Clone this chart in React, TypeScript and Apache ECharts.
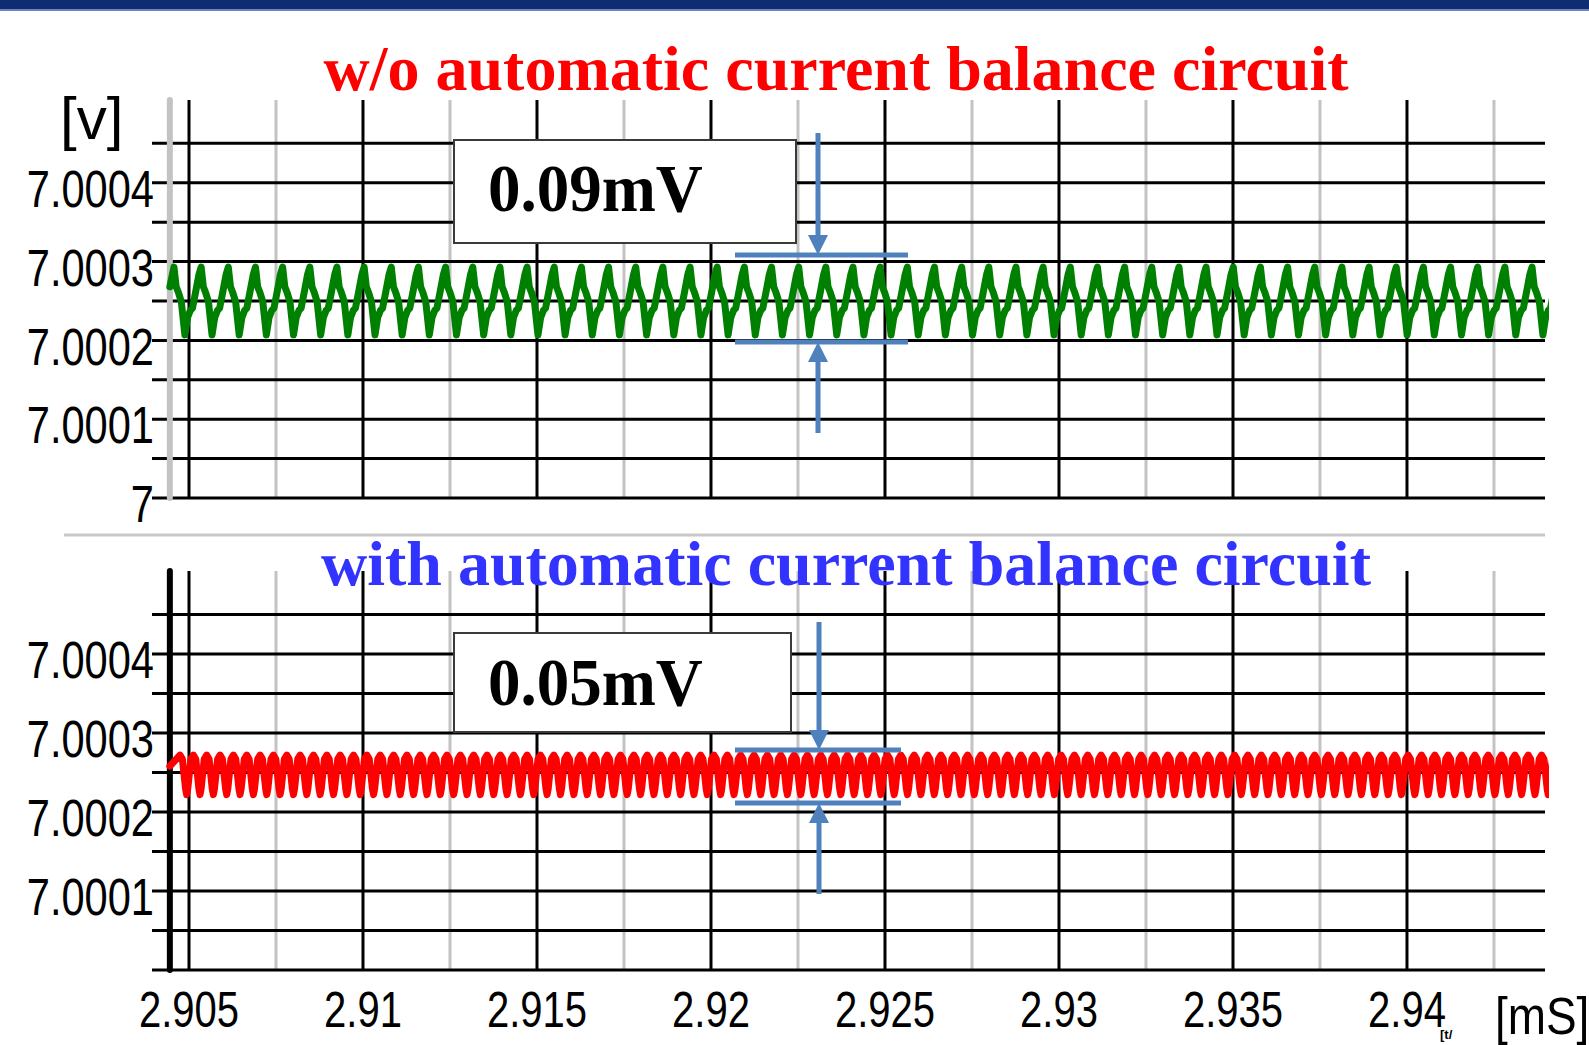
import React, { useEffect, useRef } from "react";
import * as echarts from "echarts";

// ---- axis ranges (ms / V) ----
const X_MIN = 2.903937;
const X_MAX = 2.943966;
const Y_MIN = 7;
const Y_MAX = 7.000505;
const Y_AXIS_AT = 2.90445;

// ---- tick / grid values ----
const xTickLabels = [2.905, 2.91, 2.915, 2.92, 2.925, 2.93, 2.935, 2.94];
const xMinorLines = [2.9075, 2.9125, 2.9175, 2.9225, 2.9275, 2.9325, 2.9375, 2.9425];
const yGridLines = [7, 7.00005, 7.0001, 7.00015, 7.0002, 7.00025, 7.0003, 7.00035, 7.0004, 7.00045];
const topYLabels = [7, 7.0001, 7.0002, 7.0003, 7.0004];
const bottomYLabels = [7.0001, 7.0002, 7.0003, 7.0004];

// ---- green trace (w/o balance circuit) ----
const greenStart = [2.90445, 7.000268];
const greenPeaks = [
  2.904569, 2.90535, 2.90613, 2.906911, 2.907691, 2.908472, 2.909252, 2.910033, 2.910813, 2.911594,
  2.912374, 2.913155, 2.913935, 2.914716, 2.915496, 2.916277, 2.917057, 2.917838, 2.918618, 2.919399,
  2.920179, 2.92096, 2.92174, 2.922521, 2.923301, 2.924082, 2.924862, 2.925643, 2.926423, 2.927204,
  2.927984, 2.928765, 2.929545, 2.930326, 2.931106, 2.931887, 2.932667, 2.933448, 2.934228, 2.935009,
  2.935789, 2.93657, 2.93735, 2.938131, 2.938911, 2.939692, 2.940472, 2.941253, 2.942033, 2.942814,
  2.943594,
];
const greenCyclePhase = [0, 0.08, 0.17, 0.27, 0.4, 0.5, 0.6, 0.68, 0.8, 0.92];
const greenCycleValue = [7.000293, 7.000268, 7.00026, 7.000249, 7.000207, 7.000229, 7.000238, 7.000241, 7.000262, 7.000284];

// ---- red trace (with balance circuit) ----
const redStart = [2.90445, 7.000258];
const redPeaks = [
  2.904741, 2.905125, 2.905508, 2.905892, 2.906275, 2.906659, 2.907043, 2.907426, 2.90781, 2.908193,
  2.908577, 2.908961, 2.909344, 2.909728, 2.910111, 2.910495, 2.910879, 2.911262, 2.911646, 2.912029,
  2.912413, 2.912797, 2.91318, 2.913564, 2.913947, 2.914331, 2.914715, 2.915098, 2.915482, 2.915865,
  2.916249, 2.916633, 2.917016, 2.9174, 2.917783, 2.918167, 2.918551, 2.918934, 2.919318, 2.919701,
  2.920085, 2.920469, 2.920852, 2.921236, 2.921619, 2.922003, 2.922387, 2.92277, 2.923154, 2.923537,
  2.923921, 2.924305, 2.924688, 2.925072, 2.925455, 2.925839, 2.926223, 2.926606, 2.92699, 2.927373,
  2.927757, 2.928141, 2.928524, 2.928908, 2.929291, 2.929675, 2.930059, 2.930442, 2.930826, 2.931209,
  2.931593, 2.931977, 2.93236, 2.932744, 2.933127, 2.933511, 2.933895, 2.934278, 2.934662, 2.935045,
  2.935429, 2.935813, 2.936196, 2.93658, 2.936963, 2.937347, 2.937731, 2.938114, 2.938498, 2.938881,
  2.939265, 2.939649, 2.940032, 2.940416, 2.940799, 2.941183, 2.941567, 2.94195, 2.942334, 2.942717,
  2.943101, 2.943485, 2.943868,
];
const redCyclePhase = [0, 0.18, 0.42, 0.5, 0.58, 0.82];
const redCycleValue = [7.000272, 7.000267, 7.000229, 7.000222, 7.000229, 7.000267];

// ---- texts ----
const titleTop = "w/o automatic current balance circuit";
const titleBottom = "with automatic current balance circuit";
const noteTop = "0.09mV";
const noteBottom = "0.05mV";
const yUnit = "[v]";
const xUnit = "[mS]";
const xUnitExtra = "[t/";

function buildWave(start: number[], peaks: number[], phases: number[], values: number[]) {
  const pts: number[][] = [start];
  for (let i = 0; i < peaks.length; i++) {
    const p = peaks[i];
    const next = i + 1 < peaks.length ? peaks[i + 1] : p + (p - peaks[i - 1]);
    const span = next - p;
    for (let j = 0; j < phases.length; j++) pts.push([p + phases[j] * span, values[j]]);
  }
  return pts;
}

function verticalSegments(values: number[]) {
  const d: any[] = [];
  values.forEach((v) => d.push([v, Y_MIN], [v, Y_MAX], [v, "-"]));
  return d;
}
function horizontalSegments(values: number[]) {
  const d: any[] = [];
  values.forEach((v) => d.push([X_MIN, v], [X_MAX, v], [X_MAX, "-"]));
  return d;
}

const fmt = (v: number) => String(parseFloat(Number(v).toFixed(4)));
const SANS = "'Liberation Sans', Arial, sans-serif";
const SERIF = "'Liberation Serif', 'Times New Roman', serif";
const BLUE = "#4f81bd";
const GRAY = "#c3c3c3";

function gridSeries(gi: number, axisColor: string) {
  const base = { type: "line", xAxisIndex: gi, yAxisIndex: gi, showSymbol: false, silent: true, clip: false, connectNulls: false, animation: false };
  return [
    { ...base, z: 1, data: verticalSegments(xMinorLines), lineStyle: { color: GRAY, width: 3 } },
    { ...base, z: 1, data: horizontalSegments(yGridLines), lineStyle: { color: "#000", width: 3 } },
    { ...base, z: 1, data: verticalSegments(xTickLabels), lineStyle: { color: "#000", width: 3 } },
    { ...base, z: 2, data: verticalSegments([Y_AXIS_AT]), lineStyle: { color: axisColor, width: 6, cap: "round" } },
  ];
}

function bracket(yTop: number, yBot: number, x1: number, x2: number, xa: number, shaftTop: number, shaftBot: number) {
  const st = { stroke: BLUE, lineWidth: 5 };
  return [
    { type: "line", z: 20, shape: { x1, y1: yTop, x2, y2: yTop }, style: st },
    { type: "line", z: 20, shape: { x1, y1: yBot, x2, y2: yBot }, style: st },
    { type: "line", z: 20, shape: { x1: xa, y1: shaftTop, x2: xa, y2: yTop - 16 }, style: st },
    { type: "polygon", z: 20, shape: { points: [[xa - 10, yTop - 20], [xa + 10, yTop - 20], [xa, yTop]] }, style: { fill: BLUE } },
    { type: "line", z: 20, shape: { x1: xa, y1: shaftBot, x2: xa, y2: yBot + 16 }, style: st },
    { type: "polygon", z: 20, shape: { points: [[xa - 10, yBot + 20], [xa + 10, yBot + 20], [xa, yBot]] }, style: { fill: BLUE } },
  ];
}

export default function App() {
  const ref = useRef<HTMLDivElement>(null);
  useEffect(() => {
    document.body.style.margin = "0";
    const chart = echarts.init(ref.current!, undefined, { renderer: "svg" });
    const greenData = buildWave(greenStart, greenPeaks, greenCyclePhase, greenCycleValue);
    const redData = buildWave(redStart, redPeaks, redCyclePhase, redCycleValue);

    const hidden = { show: false };
    const xAxisOf = (gi: number) => ({
      type: "value", gridIndex: gi, min: X_MIN, max: X_MAX,
      axisLine: hidden, axisTick: hidden, splitLine: hidden, axisLabel: hidden, splitArea: hidden,
    });
    const yAxisOf = (gi: number) => ({
      type: "value", gridIndex: gi, min: Y_MIN, max: Y_MAX,
      axisLine: hidden, axisTick: hidden, splitLine: hidden, axisLabel: hidden, splitArea: hidden,
    });

    const baseGraphic: any[] = [
      { type: "rect", z: 20, shape: { x: 0, y: 0, width: 1589, height: 9 }, style: { fill: "#0f2b72" } },
      { type: "rect", z: 20, shape: { x: 0, y: 9, width: 1589, height: 2 }, style: { fill: "#6a85bf" } },
      { type: "line", z: 20, shape: { x1: 64, y1: 535, x2: 1545, y2: 535 }, style: { stroke: "#c8c8c8", lineWidth: 3 } },
      {
        type: "text", z: 20, x: 836, y: 68,
        style: { text: titleTop, font: `bold 64px ${SERIF}`, fill: "#ff0000", textAlign: "center", textVerticalAlign: "middle" },
      },
      {
        type: "text", z: 20, x: 846, y: 563,
        style: { text: titleBottom, font: `bold 64px ${SERIF}`, fill: "#3333ff", textAlign: "center", textVerticalAlign: "middle" },
      },
      { type: "rect", z: 20, shape: { x: 454, y: 140, width: 342, height: 103 }, style: { fill: "#fff", stroke: "#3a3a3a", lineWidth: 2 } },
      {
        type: "text", z: 21, x: 488, y: 188, scaleY: 1.05,
        style: { text: noteTop, font: `bold 65px ${SERIF}`, fill: "#000", textAlign: "left", textVerticalAlign: "middle" },
      },
      { type: "rect", z: 20, shape: { x: 454, y: 633, width: 337, height: 99 }, style: { fill: "#fff", stroke: "#3a3a3a", lineWidth: 2 } },
      {
        type: "text", z: 21, x: 488, y: 682, scaleY: 1.05,
        style: { text: noteBottom, font: `bold 65px ${SERIF}`, fill: "#000", textAlign: "left", textVerticalAlign: "middle" },
      },
      ...bracket(255, 342, 735, 908, 818, 133, 433),
      ...bracket(750, 803, 735, 901, 819, 622, 894),
      {
        type: "text", z: 20, x: 60, y: 118,
        style: { text: yUnit, font: `60px ${SANS}`, fill: "#000", textAlign: "left", textVerticalAlign: "middle" },
      },
      {
        type: "text", z: 20, x: 1495, y: 1016, scaleX: 0.9,
        style: { text: xUnit, font: `51px ${SANS}`, fill: "#000", textAlign: "left", textVerticalAlign: "middle" },
      },
      {
        type: "text", z: 20, x: 1440, y: 1028,
        style: { text: xUnitExtra, font: `bold 13px ${SANS}`, fill: "#000", textAlign: "left", textVerticalAlign: "top" },
      },
    ];

    const option: any = {
      animation: false,
      backgroundColor: "#ffffff",
      grid: [
        { left: 152, right: 44, top: 100, height: 398 },
        { left: 152, right: 44, top: 571, height: 399 },
      ],
      xAxis: [xAxisOf(0), xAxisOf(1)],
      yAxis: [yAxisOf(0), yAxisOf(1)],
      series: [
        ...gridSeries(0, GRAY),
        {
          type: "line", xAxisIndex: 0, yAxisIndex: 0, z: 3, data: greenData, showSymbol: false, silent: true,
          lineStyle: { color: "#008000", width: 7, join: "round", cap: "round" },
        },
        ...gridSeries(1, "#000000"),
        {
          type: "line", xAxisIndex: 1, yAxisIndex: 1, z: 3, data: redData, showSymbol: false, silent: true,
          lineStyle: { color: "#ff0000", width: 7, join: "round", cap: "round" },
        },
      ],
      graphic: baseGraphic,
    };
    chart.setOption(option);

    // axis tick labels, placed through the axes' own scales (condensed like the original)
    const labelGraphic: any[] = [];
    const addY = (gi: number, values: number[]) => {
      values.forEach((v) => {
        const p = chart.convertToPixel({ gridIndex: gi } as any, [X_MIN, v]) as number[];
        labelGraphic.push({
          type: "text", z: 20, x: p[0] + 2, y: p[1] + 6, scaleX: 0.8,
          style: { text: fmt(v), font: `52px ${SANS}`, fill: "#000", textAlign: "right", textVerticalAlign: "middle" },
        });
      });
    };
    addY(0, topYLabels);
    addY(1, bottomYLabels);
    xTickLabels.forEach((v) => {
      const p = chart.convertToPixel({ gridIndex: 1 } as any, [v, Y_MIN]) as number[];
      labelGraphic.push({
        type: "text", z: 20, x: p[0], y: p[1] + 40, scaleX: 0.8,
        style: { text: fmt(v), font: `50px ${SANS}`, fill: "#000", textAlign: "center", textVerticalAlign: "middle" },
      });
    });
    chart.setOption({ graphic: [...baseGraphic, ...labelGraphic] });
    return () => chart.dispose();
  }, []);
  return <div ref={ref} style={{ width: 1589, height: 1045 }} />;
}
